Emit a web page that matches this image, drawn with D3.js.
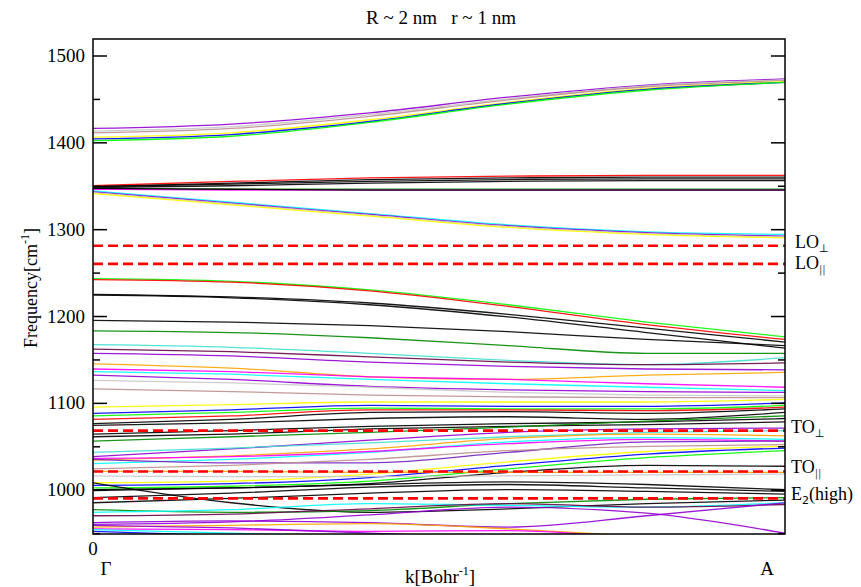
<!DOCTYPE html>
<html><head><meta charset="utf-8">
<script src="https://cdn.jsdelivr.net/npm/d3@7"></script>
<style>
body{margin:0;background:#fff;}
svg{display:block;font-family:"Liberation Serif","Times New Roman",serif;}
</style>
</head><body>
<svg id="chart" width="861" height="587"></svg>
<script>
// ---------------- data ----------------
const titleText = "R ~ 2 nm   r ~ 1 nm";
const kPoints = [0, 0.2, 0.4, 0.6, 0.8, 1.0];
const xTickLabels = ["Γ", "A"];
const yTickValues = [1000, 1100, 1200, 1300, 1400, 1500];
const yMinorTickValues = [950, 1050, 1150, 1250, 1350, 1450];
const refFreqs = [1281, 1260, 1068, 1021, 990];
const refMain = ["LO", "LO", "TO", "TO", "E"];
const refSub = ["⊥", "||", "⊥", "||", "2"];
const refRest = ["", "", "", "", "(high)"];

const bandColors = [
  "violet","grey","brown","yellow","blue","green",
  "red","black","black","black","green4","magenta","black",
  "cyan","violet","grey","yellow",
  "green","red","black","black","black","green4","turquoise","maroon","violet",
  "orange","magenta","cyan","violet","grey","brown",
  "yellow","blue","green","red","black","black","black","black","green4",
  "violet","turquoise","orange","cyan","magenta","indigo","brown",
  "yellow","blue","green","black","orange","grey",
  "black","black","black","black","green4","cyan","maroon",
  "violet","violet","orange","magenta","cyan","blue","violet"
];
const bandFreqs = [
  [1416,1421,1434,1452,1466,1473],
  [1413,1418,1432,1450,1465,1472],
  [1411,1416,1430,1449,1464,1471],
  [1406,1411,1426,1446,1462,1470],
  [1404,1409,1424,1445,1461,1469],
  [1402,1407,1423,1444,1460,1469],
  [1350,1355,1359,1361,1362,1362],
  [1349,1353,1357,1359,1360,1360],
  [1349,1352,1355,1357,1358,1358],
  [1348,1350,1353,1355,1356,1356],
  [1347,1346,1346,1346,1346,1346],
  [1346,1345,1345,1345,1345,1345],
  [1347,1346,1345,1345,1345,1345],
  [1344,1331,1318,1305,1297,1294],
  [1343,1330,1317,1304,1296,1292],
  [1342,1329,1316,1303,1295,1291],
  [1341,1328,1315,1302,1294,1290],
  [1243,1240,1230,1213,1193,1176],
  [1242,1239,1229,1211,1190,1173],
  [1225,1222,1215,1202,1186,1170],
  [1224,1221,1213,1199,1181,1163],
  [1195,1193,1189,1182,1173,1166],
  [1183,1181,1175,1166,1157,1157],
  [1167,1164,1157,1149,1144,1152],
  [1162,1159,1153,1147,1144,1146],
  [1157,1154,1147,1142,1139,1138],
  [1145,1140,1130,1127,1132,1135],
  [1139,1136,1130,1127,1122,1118],
  [1136,1133,1127,1122,1118,1114],
  [1132,1127,1119,1115,1113,1112],
  [1126,1123,1118,1112,1109,1108],
  [1116,1113,1109,1107,1106,1106],
  [1095,1098,1101,1101,1101,1104],
  [1088,1092,1097,1096,1096,1100],
  [1085,1089,1094,1093,1093,1097],
  [1081,1085,1092,1092,1091,1095],
  [1076,1081,1089,1090,1088,1093],
  [1074,1077,1082,1084,1081,1089],
  [1064,1068,1073,1076,1078,1082],
  [1061,1064,1070,1073,1075,1078],
  [1056,1061,1066,1072,1079,1085],
  [1038,1047,1057,1066,1070,1071],
  [1043,1048,1054,1061,1066,1068],
  [1034,1039,1047,1059,1064,1062],
  [1030,1035,1043,1055,1060,1058],
  [1036,1038,1044,1053,1058,1056],
  [1035,1031,1031,1043,1055,1056],
  [1024,1028,1035,1045,1050,1052],
  [1008,1010,1018,1032,1044,1050],
  [1005,1007,1014,1028,1041,1048],
  [1002,1004,1010,1024,1037,1045],
  [1000,1002,1007,1020,1028,1027],
  [1021,1021,1020,1020,1020,1020],
  [1016,1015,1015,1016,1017,1018],
  [1008,985,974,978,984,988],
  [999,1002,1006,1009,1006,1000],
  [991,996,1003,1006,1002,998],
  [985,990,996,1000,998,995],
  [977,974,976,984,989,991],
  [974,977,984,982,980,985],
  [970,972,978,984,980,983],
  [962,964,962,957,970,985],
  [960,963,971,980,973,950],
  [957,959,961,955,946,940],
  [955,954,952,953,944,935],
  [954,950,945,940,935,930],
  [952,947,942,938,934,930],
  [959,956,950,944,938,932]
];

const palette = {
  black:"#000000", red:"#ff0000", green:"#00ff00", blue:"#0000ff",
  yellow:"#ffff00", brown:"#bc8f8f", grey:"#c8c8c8", violet:"#9400d3",
  cyan:"#00ffff", magenta:"#ff00ff", orange:"#ffa500", indigo:"#7221bc",
  maroon:"#670748", turquoise:"#40e0d0", green4:"#008b00"
};

// ---------------- layout ----------------
const svg = d3.select("#chart");
const L = 93, R = 785, T = 39, B = 534;
const x = d3.scaleLinear().domain([0, 1]).range([L, R]);
const y = d3.scaleLinear().domain([949, 1519]).range([B, T]);

svg.append("defs").append("clipPath").attr("id","clip")
  .append("rect").attr("x",L).attr("y",T).attr("width",R-L).attr("height",B-T);

const line = d3.line()
  .x((d,i)=>x(kPoints[i]))
  .y(d=>y(d))
  .curve(d3.curveMonotoneX);

const gBands = svg.append("g").attr("clip-path","url(#clip)");
gBands.selectAll("path.band").data(bandFreqs).join("path")
  .attr("class","band")
  .attr("d", d=>line(d))
  .attr("fill","none")
  .attr("stroke",(d,i)=>palette[bandColors[i]])
  .attr("stroke-width",1.3)
  .attr("stroke-opacity",0.9);

// reference dashed lines
gBands.selectAll("line.ref").data(refFreqs).join("line")
  .attr("class","ref")
  .attr("x1",L).attr("x2",R)
  .attr("y1",d=>y(d)).attr("y2",d=>y(d))
  .attr("stroke","#ff0000").attr("stroke-width",2.6)
  .attr("stroke-dasharray","10,5");

// axes (ticks inward on left and right)
const axL = d3.axisRight(y).tickValues(yTickValues).tickSize(14).tickFormat("");
const axLm = d3.axisRight(y).tickValues(yMinorTickValues).tickSize(7).tickFormat("");
const axR = d3.axisLeft(y).tickValues(yTickValues).tickSize(14).tickFormat("");
const axRm = d3.axisLeft(y).tickValues(yMinorTickValues).tickSize(7).tickFormat("");
[[axL,L],[axLm,L],[axR,R],[axRm,R]].forEach(([a,px])=>{
  const g = svg.append("g").attr("transform",`translate(${px},0)`).call(a);
  g.select(".domain").remove();
  g.selectAll("line").attr("stroke","#000").attr("stroke-width",1.5);
});

// frame
svg.append("rect").attr("x",L).attr("y",T).attr("width",R-L).attr("height",B-T)
  .attr("fill","none").attr("stroke","#000").attr("stroke-width",1.5);

// y tick labels
svg.append("g").selectAll("text").data(yTickValues).join("text")
  .attr("x",L-8).attr("y",d=>y(d)+6.5)
  .attr("text-anchor","end").attr("font-size",19).attr("fill","#000")
  .text(d=>d);

// x labels
svg.append("text").attr("x",x(0)).attr("y",555).attr("text-anchor","middle")
  .attr("font-size",19).text("0");
svg.append("text").attr("x",x(0)+13).attr("y",575).attr("text-anchor","middle")
  .attr("font-size",19).text(xTickLabels[0]);
svg.append("text").attr("x",x(1)-18).attr("y",575).attr("text-anchor","middle")
  .attr("font-size",19).text(xTickLabels[1]);

const xl = svg.append("text").attr("x",440).attr("y",583).attr("text-anchor","middle")
  .attr("font-size",19);
xl.append("tspan").text("k[Bohr");
xl.append("tspan").attr("font-size",12).attr("dy",-8).text("-1");
xl.append("tspan").attr("dy",8).text("]");

// y label
const yl = svg.append("text").attr("transform","translate(37,288) rotate(-90)")
  .attr("text-anchor","middle").attr("font-size",18);
yl.append("tspan").text("Frequency[cm");
yl.append("tspan").attr("font-size",12).attr("dy",-8).text("-1");
yl.append("tspan").attr("dy",8).text("]");

// title
svg.append("text").attr("x",441).attr("y",24).attr("text-anchor","middle")
  .attr("font-size",19).style("white-space","pre").text(titleText);

// right labels
const rl = svg.append("g").selectAll("text").data(refFreqs).join("text")
  .attr("x",(d,i)=> i<2 ? 795 : 791)
  .attr("y",(d,i)=>y(d)+ (i===1 ? 5 : 2))
  .attr("font-size",18).attr("fill","#000");
rl.append("tspan").text((d,i)=>refMain[i]);
rl.append("tspan").attr("font-size",(d,i)=> refSub[i]==="||" ? 10 : 11)
  .attr("fill",(d,i)=> refSub[i]==="||" ? "#555" : "#000")
  .attr("font-family","DejaVu Sans")
  .attr("dy",4).text((d,i)=>refSub[i]);
rl.append("tspan").attr("dy",-4).text((d,i)=>refRest[i]);
</script>
</body></html>
